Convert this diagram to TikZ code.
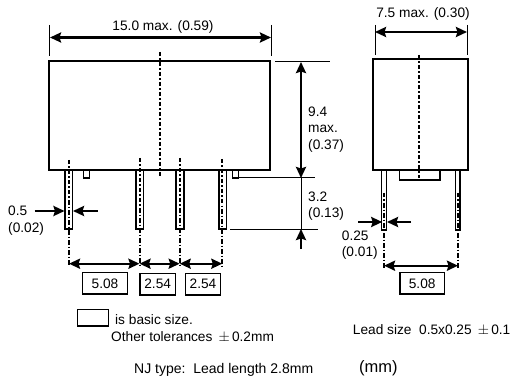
\documentclass[tikz,border=0pt]{standalone}
\usepackage{fontspec}
\setmainfont{Liberation Sans}
\usetikzlibrary{arrows.meta}
\tikzset{
  body/.style={line width=2pt},
  lead/.style={line width=1.3pt},
  thinline/.style={line width=1pt},
  centerline/.style={line width=2pt, dash pattern=on 4.5pt off 2pt on 1.5pt off 2pt},
  dimline/.style={line width=2.4pt, {Stealth[length=11pt,width=10pt,inset=1.5pt]}-{Stealth[length=11pt,width=10pt,inset=1.5pt]}},
  dimarrow/.style={line width=2.4pt, -{Stealth[length=11pt,width=10pt,inset=1.5pt]}},
  dimtext/.style={inner sep=0pt, anchor=west, font=\fontsize{13.7}{15}\selectfont},
  basicbox/.style={draw, line width=1.3pt, inner sep=0pt, font=\fontsize{13.7}{15}\selectfont}
}
\begin{document}
\begin{tikzpicture}[x=1pt, y=-1pt]
  \useasboundingbox (0,0) rectangle (511,382);

  % front view
  \draw[thinline] (49.5,25)--(49.5,56);
  \draw[thinline] (271,25)--(271,56);
  \draw[dimline] (50,37.5)--(271,37.5);
  \node[dimtext, anchor=center] (widthfront) at (163,27) {15.0 max. (0.59)};

  \draw[body] (49,61.5) rectangle (270,170);
  \draw[centerline] (159.5,52)--(159.5,178);

  \draw[lead] (65,170) rectangle (72.7,229);
  \draw[lead] (136,170) rectangle (143.3,229);
  \draw[lead] (176,170) rectangle (184,229);
  \draw[lead] (219,170) rectangle (226.7,229);
  \draw[lead] (83.3,170) rectangle (89.3,178);
  \draw[lead] (232.7,170) rectangle (238.7,178);

  \draw[centerline] (68.7,160)--(68.7,266);
  \draw[centerline] (139.5,158)--(139.5,266);
  \draw[centerline] (179.7,158)--(179.7,266);
  \draw[centerline] (222.3,159)--(222.3,266);

  % height
  \draw[thinline] (275,62)--(330,62);
  \draw[thinline] (238,178)--(315,178);
  \draw[thinline] (230,229)--(318,229);
  \draw[thinline] (301,178)--(301,229);
  \draw[dimline] (301,62)--(301,178);
  \draw[dimarrow] (301,249)--(301,229);
  \node[dimtext] (heightval) at (308,112) {9.4};
  \node[dimtext] (heightmax) at (308,129) {max.};
  \node[dimtext] (heightinch) at (308,146) {(0.37)};
  \node[dimtext] (leadval) at (308,197) {3.2};
  \node[dimtext] (leadinch) at (308,214) {(0.13)};

  % lead width
  \draw[dimarrow] (34.7,211)--(64.5,211);
  \draw[dimarrow] (97.7,211)--(73,211);
  \node[dimtext] (leadw) at (8,211) {0.5};
  \node[dimtext] (leadwinch) at (8,229) {(0.02)};

  % pitch
  \draw[dimline] (69,263.7)--(139.5,263.7);
  \draw[dimline] (139.5,263.7)--(179.7,263.7);
  \draw[dimline] (179.7,263.7)--(222.3,263.7);
  \node[basicbox, minimum width=44.6pt, minimum height=21.3pt] (pitcha) at (105,283.4) {5.08};
  \node[basicbox, minimum width=35.3pt, minimum height=21.7pt] (pitchb) at (157.7,284.2) {2.54};
  \node[basicbox, minimum width=35.3pt, minimum height=21.7pt] (pitchc) at (203,284.2) {2.54};

  % notes
  \node[basicbox, minimum width=30.6pt, minimum height=16.7pt] (legend) at (93,317.7) {};
  \node[dimtext] (basicnote) at (115,320) {is basic size.};
  \node[dimtext] (tolnote) at (111,336.7) {Other tolerances\ \,$\pm$\,0.2mm};
  \node[dimtext, font=\fontsize{14}{15}\selectfont] (njnote) at (134,370) {NJ type:\ \ Lead length 2.8mm};

  % side view
  \draw[thinline] (375,25)--(375,55);
  \draw[thinline] (467.5,25)--(467.5,55);
  \draw[dimline] (375,32)--(467,32);
  \node[dimtext, anchor=center] (widthside) at (423,14) {7.5 max. (0.30)};

  \draw[body] (373.3,59.3) rectangle (468,170);
  \draw[lead] (399.7,170)--(399.7,180)--(440,180)--(440,170);
  \draw[centerline] (419,55)--(419,178);

  \draw[lead] (381.7,170) rectangle (386.7,230);
  \draw[lead] (455.3,170) rectangle (460,230);
  \draw[centerline] (383.9,193)--(383.9,268);
  \draw[centerline] (458,193)--(458,268);

  \draw[dimarrow] (358,222)--(382.2,222);
  \draw[dimarrow] (411,222)--(387,222);
  \node[dimtext] (sidew) at (341.7,235.7) {0.25};
  \node[dimtext] (sidewinch) at (341.7,253) {(0.01)};

  \draw[dimline] (384,265.7)--(458,265.7);
  \node[basicbox, minimum width=44.3pt, minimum height=21.3pt] (pitchside) at (422.2,283.4) {5.08};

  \node[dimtext] (sizenote) at (352.7,330) {Lead size\ \ 0.5x0.25\ \,$\pm$\,0.1};
  \node[dimtext, font=\fontsize{16.5}{18}\selectfont] (unitnote) at (359,368) {(mm)};
\end{tikzpicture}
\end{document}
